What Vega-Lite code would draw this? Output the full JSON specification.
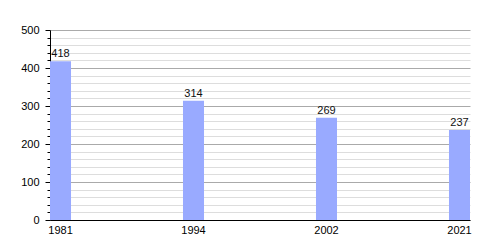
{
  "$schema": "https://vega.github.io/schema/vega-lite/v6.json",
  "autosize": "none",
  "width": 420,
  "height": 190,
  "padding": {"left": 50, "top": 30, "right": 30, "bottom": 30},
  "background": "white",
  "config": {
    "view": {"stroke": null},
    "font": "Liberation Sans",
    "axis": {"labelFont": "Liberation Sans", "labelFontSize": 11, "labelColor": "#000"}
  },
  "data": {"values": [
    {"year": "1981", "value": 418},
    {"year": "1994", "value": 314},
    {"year": "2002", "value": 269},
    {"year": "2021", "value": 237}
  ]},
  "encoding": {
    "x": {
      "field": "year", "type": "ordinal",
      "scale": {"paddingInner": 0.842, "paddingOuter": 0},
      "axis": {"title": null, "labelAngle": 0, "ticks": false, "domainColor": "#000", "labelPadding": 4, "grid": false}
    }
  },
  "layer": [
    {
      "mark": {"type": "bar", "color": "#99aaff"},
      "encoding": {
        "y": {
          "field": "value", "type": "quantitative",
          "scale": {"domain": [0, 500], "nice": false},
          "axis": {
            "title": null, "values": [0, 100, 200, 300, 400, 500],
            "grid": true, "gridColor": "#aaaaaa", "gridWidth": 1,
            "tickSize": 5, "tickColor": "#000", "domainColor": "#000",
            "labelPadding": 6, "orient": "left"
          }
        }
      }
    },
    {
      "mark": {"type": "text", "dy": -7, "fontSize": 11, "color": "#111", "font": "Liberation Sans"},
      "encoding": {
        "y": {
          "field": "value", "type": "quantitative",
          "scale": {"domain": [0, 500], "nice": false},
          "axis": {
            "title": null,
            "values": [20, 40, 60, 80, 120, 140, 160, 180, 220, 240, 260, 280, 320, 340, 360, 380, 420, 440, 460, 480],
            "grid": true, "gridColor": "#dddddd", "gridWidth": 1,
            "labels": false, "tickSize": 3, "tickColor": "#000", "domain": false, "orient": "left"
          }
        },
        "text": {"field": "value", "type": "quantitative"}
      }
    }
  ],
  "resolve": {"axis": {"y": "independent"}}
}
